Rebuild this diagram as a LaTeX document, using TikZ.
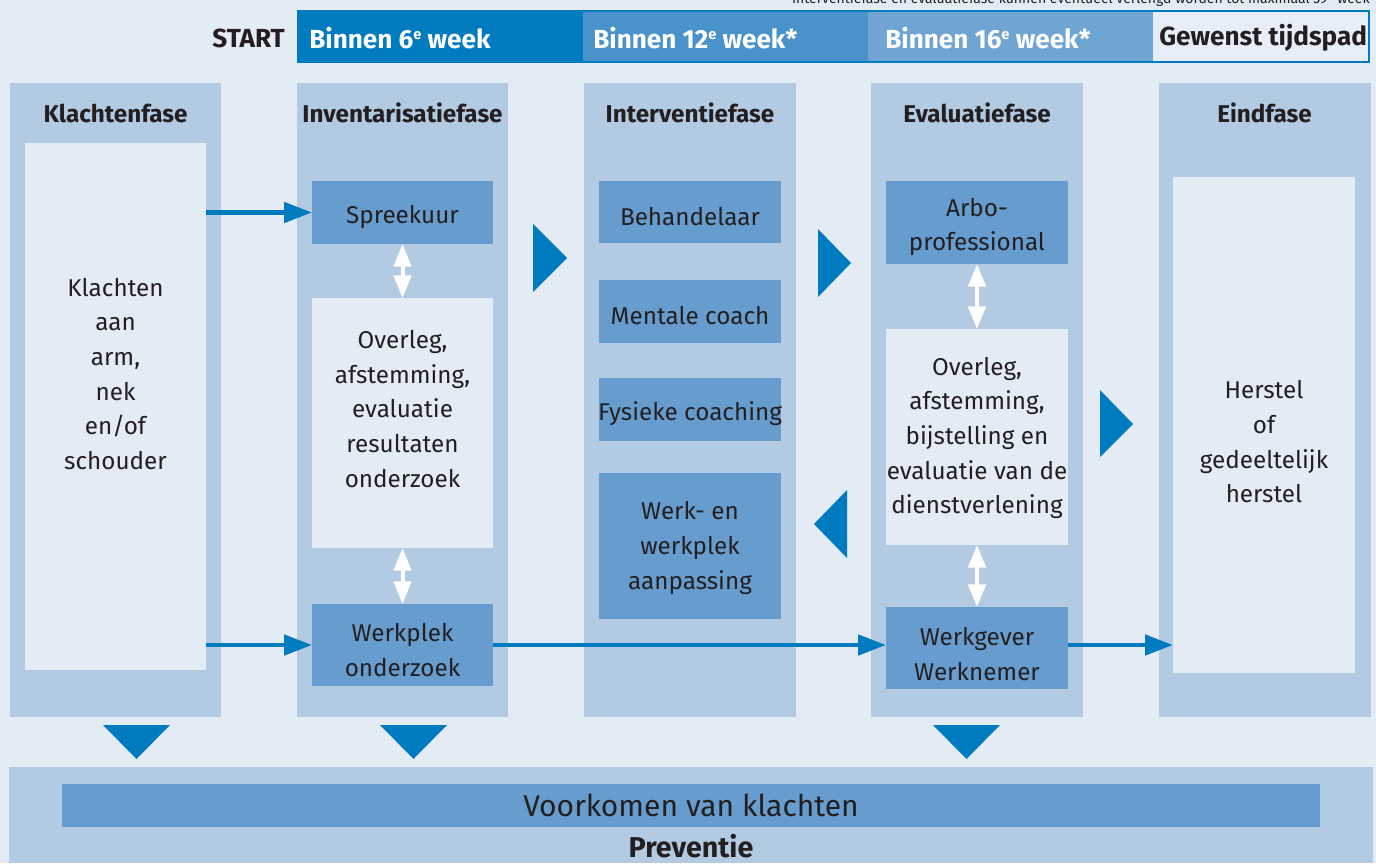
\documentclass[tikz,border=0pt]{standalone}
\usepackage{fontspec}
\setmainfont{Fira Sans}
\usetikzlibrary{arrows.meta}
\definecolor{bg}{HTML}{E3EBF5}
\definecolor{colc}{HTML}{B3CAE3}
\definecolor{mid}{HTML}{679DCE}
\definecolor{dark}{HTML}{007BBF}
\definecolor{segb}{HTML}{4A93CA}
\definecolor{segc}{HTML}{6FA4D3}
\definecolor{segd}{HTML}{E8EEF7}
\definecolor{txtc}{HTML}{231F20}
\newcommand\supe{\raisebox{0.62ex}{\fontsize{11}{11}\selectfont e}}
\tikzset{
  wh/.style 2 args={minimum width={#1*0.75pt},minimum height={#2*0.75pt}},
  plain/.style={inner sep=0pt,outer sep=0pt,draw=none},
  column/.style={plain,fill=colc},
  lightbox/.style={plain,fill=bg},
  midbox/.style={plain,fill=mid},
  body/.style={inner sep=0pt,text=txtc,align=center,font=\fontsize{18.2}{26}\selectfont},
  head/.style={inner sep=0pt,text=txtc,font=\bfseries\fontsize{18.2}{22}\selectfont},
  bartxt/.style={inner sep=0pt,anchor=west,font=\bfseries\fontsize{19.6}{22}\selectfont},
  flow/.style={draw=dark,line width=3.6pt,-{Triangle[length=21pt,width=15pt]}},
  dbl/.style={draw=white,line width=3pt,{Triangle[length=17pt,width=13pt]}-{Triangle[length=17pt,width=13pt]}},
  bigtri/.style={fill=dark}
}
\begin{document}
\begin{tikzpicture}[x=0.75pt,y=-0.75pt]
\useasboundingbox (0,0) rectangle (1376,863);
\fill[bg] (0,0) rectangle (1376,863);

% note at top (cut off, as in the reference)
\node[inner sep=0pt,anchor=base east,text=txtc,font=\fontsize{10.5}{12}\selectfont] (note) at (1370,4)
  {Interventiefase en evaluatiefase kunnen eventueel verlengd worden tot maximaal 39\textsuperscript{e} week};

% time bar
\fill[dark] (297,10) rectangle (1370,63);
\fill[segb] (583,12) rectangle (868,61);
\fill[segc] (868,12) rectangle (1153,61);
\fill[segd] (1153,12) rectangle (1368,61);
\node[bartxt,anchor=east,text=txtc] (start) at (285,38) {START};
\node[bartxt,text=white] (w6) at (309,38) {Binnen 6\supe{} week};
\node[bartxt,text=white] (w12) at (593,38) {Binnen 12\supe{} week*};
\node[bartxt,text=white] (w16) at (885,38) {Binnen 16\supe{} week*};
\node[bartxt,text=txtc] (wt) at (1159,38) {Gewenst tijdspad};

% columns
\node[column,wh={211}{634}] (c1) at (115.5,400) {};
\node[column,wh={211}{634}] (c2) at (402.5,400) {};
\node[column,wh={212}{634}] (c3) at (690,400) {};
\node[column,wh={212}{634}] (c4) at (977,400) {};
\node[column,wh={212}{634}] (c5) at (1264.5,400) {};

\node[head] (h1) at (115.5,113) {Klachtenfase};
\node[head] (h2) at (402.5,113) {Inventarisatiefase};
\node[head] (h3) at (690,113) {Interventiefase};
\node[head] (h4) at (977,113) {Evaluatiefase};
\node[head] (h5) at (1264.5,113) {Eindfase};

% column 1
\node[lightbox,wh={181}{527}] (kb) at (115.5,406.5) {};
\node[body] (kt) at (115.5,374) {Klachten\\aan\\arm,\\nek\\en/of\\schouder};

% column 2
\node[midbox,wh={181}{63}] (sp) at (402.5,212.5) {};
\node[body] (spt) at (402.5,217) {Spreekuur};
\node[lightbox,wh={181}{250}] (ov) at (402.5,423) {};
\node[body] (ovt) at (402.5,409) {Overleg,\\afstemming,\\evaluatie\\resultaten\\onderzoek};
\node[midbox,wh={181}{82}] (wo) at (402.5,645) {};
\node[body] (wot) at (402.5,650) {Werkplek\\onderzoek};

% column 3
\node[midbox,wh={182}{62}] (be) at (690,212) {};
\node[body] (bet) at (690,217) {Behandelaar};
\node[midbox,wh={182}{63}] (mc) at (690,311.5) {};
\node[body] (mct) at (690,316) {Mentale coach};
\node[midbox,wh={182}{63}] (fc) at (690,409.5) {};
\node[body] (fct) at (690,414) {Fysieke coaching};
\node[midbox,wh={182}{146}] (wa) at (690,546) {};
\node[body] (wat) at (690,548) {Werk- en\\werkplek\\aanpassing};

% column 4
\node[midbox,wh={182}{83}] (ap) at (977,222.5) {};
\node[body] (apt) at (977,227) {Arbo-\\professional};
\node[lightbox,wh={182}{216}] (ob) at (977,437) {};
\node[body] (obt) at (977,438) {Overleg,\\afstemming,\\bijstelling en\\evaluatie van de\\dienstverlening};
\node[midbox,wh={182}{82}] (wg) at (977,648) {};
\node[body] (wgt) at (977,654) {Werkgever\\Werknemer};

% column 5
\node[lightbox,wh={182}{496}] (hb) at (1264,425) {};
\node[body] (hbt) at (1264,442) {Herstel\\of\\gedeeltelijk\\herstel};

% white double arrows
\draw[dbl] (sp.south) -- (ov.north);
\draw[dbl] (ov.south) -- (wo.north);
\draw[dbl] (ap.south) -- (ob.north);
\draw[dbl] (ob.south) -- (wg.north);

% flow arrows
\draw[flow] (kb.east |- sp.west) -- (sp.west);
\draw[flow] (kb.east |- wo.west) -- (wo.west);
\draw[flow] (wo.east) -- (wo.east -| wg.west);
\draw[flow] (wg.east |- wo.east) -- (wo.east -| hb.west);

% big triangles between columns
\fill[bigtri] (533,224) -- (533,292) -- (567,258) -- cycle;
\fill[bigtri] (818,229) -- (818,297) -- (851,263) -- cycle;
\fill[bigtri] (847,490) -- (847,558) -- (814,524) -- cycle;
\fill[bigtri] (1100,390) -- (1100,457) -- (1133,424) -- cycle;

% down triangles
\fill[bigtri] (103,725) -- (170,725) -- (136.5,759) -- cycle;
\fill[bigtri] (380,725) -- (447,725) -- (413.5,759) -- cycle;
\fill[bigtri] (933,725) -- (1000,725) -- (966.5,759) -- cycle;

% prevention band
\node[column,wh={1364}{96},anchor=north west] (pb) at (9,767) {};
\node[midbox,wh={1258}{43},anchor=north west] (vk) at (62,784) {};
\node[inner sep=0pt,text=txtc,font=\fontsize{22.5}{26}\selectfont] (vkt) at (691,805) {Voorkomen van klachten};
\node[inner sep=0pt,text=txtc,font=\bfseries\fontsize{21.5}{24}\selectfont] (pv) at (691,846) {Preventie};
\end{tikzpicture}
\end{document}
